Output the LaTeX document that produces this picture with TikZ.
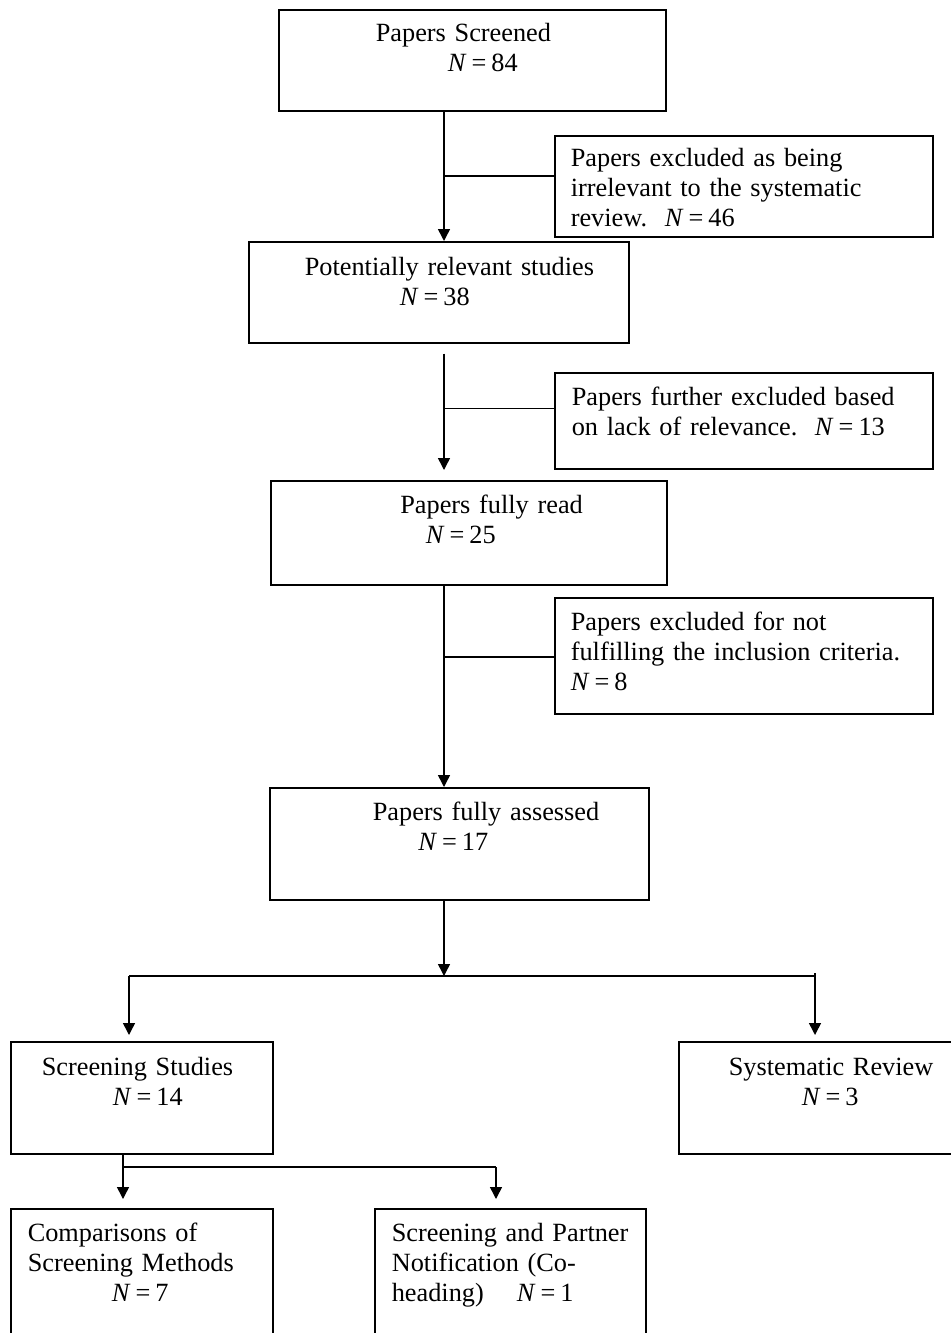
\documentclass[tikz,border=0pt]{standalone}
\usepackage{fontspec}
\setmainfont{Liberation Serif}
\usetikzlibrary{arrows.meta, calc}

\newcommand{\Nval}[1]{\textit{N}\kern2.5pt=\kern2.5pt#1}

\tikzset{
  box/.style={draw, line width=0.8pt, anchor=north west, inner sep=0pt, align=left,
    font=\fontsize{13.15pt}{15pt}\selectfont},
  arr/.style={line width=0.75pt, -{Triangle[length=6pt, width=6pt]}},
  link/.style={line width=0.75pt}
}

\begin{document}
\begin{tikzpicture}[x=0.5pt, y=-0.5pt]
            \useasboundingbox (0, 0) rectangle (951, 1333);
            \clip (0, 0) rectangle (951, 1333);
            % main column
            \node[box, text width=193.5pt, text height=16pt, text depth=34.5pt] (scr) at (278, 9)
              {\hspace*{48.5pt}Papers Screened\\\hspace*{84.5pt}\Nval{84}};
            \node[box, text width=190pt, text height=17pt, text depth=33.5pt] (rel) at (248, 241)
              {\hspace*{28pt}Potentially relevant studies\\\hspace*{75.5pt}\Nval{38}};
            \node[box, text width=198pt, text height=16.5pt, text depth=35.5pt] (read) at (270, 480)
              {\hspace*{64.75pt}Papers fully read\\\hspace*{77.5pt}\Nval{25}};
            \node[box, text width=189.5pt, text height=16.5pt, text depth=39.5pt] (assessed) at (269, 787)
              {\hspace*{51.5pt}Papers fully assessed\\\hspace*{74.25pt}\Nval{17}};
            % excluded papers
            \node[box, text width=189pt, text height=15.5pt, text depth=35pt] (excl1) at (554, 135)
              {\hspace*{8pt}Papers excluded as being\\\hspace*{8pt}irrelevant to the systematic\\\hspace*{8pt}review.\ \ \Nval{46}};
            \node[box, text width=189pt, text height=16.5pt, text depth=31.5pt] (excl2) at (554, 372)
              {\hspace*{8.5pt}Papers further excluded based\\\hspace*{8.5pt}on lack of relevance.\ \ \Nval{13}};
            \node[box, text width=189pt, text height=16.5pt, text depth=41.5pt] (excl3) at (554, 597)
              {\hspace*{8pt}Papers excluded for not\\\hspace*{8pt}fulfilling the inclusion criteria.\\\hspace*{8pt}\Nval{8}};
            % study types
            \node[box, text width=131pt, text height=17pt, text depth=39pt] (studies) at (10, 1041)
              {\hspace*{15.5pt}Screening Studies\\\hspace*{51pt}\Nval{14}};
            \node[box, text width=141pt, text height=17pt, text depth=39pt] (sysrev) at (678, 1041)
              {\hspace*{25pt}Systematic Review\\\hspace*{61.5pt}\Nval{3}};
            \node[box, text width=131pt, text height=16.5pt, text depth=52pt] (compar) at (10, 1208)
              {\hspace*{8.5pt}Comparisons of\\\hspace*{8.5pt}Screening Methods\\\hspace*{50.5pt}\Nval{7}};
            \node[box, text width=135.5pt, text height=16.5pt, text depth=52pt] (cohead) at (374, 1208)
              {\hspace*{8.5pt}Screening and Partner\\\hspace*{8.5pt}Notification (Co-\\\hspace*{8.5pt}heading)\hspace{16.5pt}\Nval{1}};

            % connectors
            \coordinate (spine) at (444, 0);
            \coordinate (in1) at ($(excl1.north west)!0.4!(excl1.south west)$);
            \coordinate (in2) at ($(excl2.north west)!0.375!(excl2.south west)$);
            \coordinate (in3) at ($(excl3.north west)!0.51!(excl3.south west)$);
            \draw[arr] (scr.south -| spine) -- (rel.north -| spine);
            \draw[link] (in1) -- (in1 -| spine);
            \draw[arr] ([yshift=-5pt]rel.south -| spine) -- ([yshift=5pt]read.north -| spine);
            \draw[link] (in2) -- (in2 -| spine);
            \draw[arr] (read.south -| spine) -- (assessed.north -| spine);
            \draw[link] (in3) -- (in3 -| spine);

            \coordinate (brL) at (129, 976);
            \coordinate (brR) at (815, 976);
            \draw[arr] (assessed.south -| spine) -- (spine |- brL);
            \draw[link] (brL) -- (brR);
            \draw[arr] (brL) -- ([yshift=3pt]studies.north -| brL);
            \draw[arr] ([yshift=1.5pt]brR) -- ([yshift=3pt]sysrev.north -| brR);

            \coordinate (subL) at (123, 1167);
            \coordinate (subR) at (496, 1167);
            \draw[arr] (studies.south -| subL) -- ([yshift=4.5pt]compar.north -| subL);
            \draw[link] (subL) -- (subR);
            \draw[arr] (subR) -- ([yshift=4.5pt]cohead.north -| subR);
          \end{tikzpicture}
\end{document}
